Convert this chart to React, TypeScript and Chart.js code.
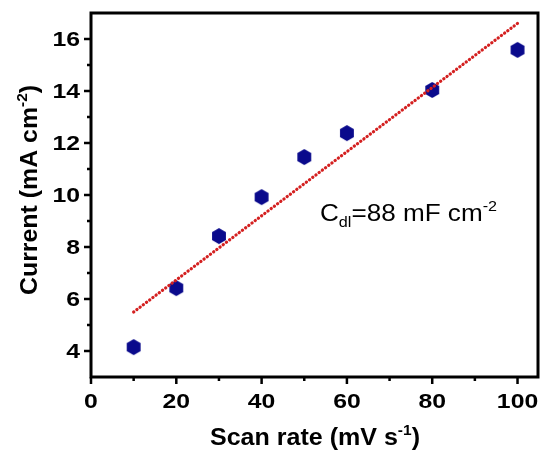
import React, { useEffect, useRef } from "react";
import { Chart, registerables } from "chart.js";

Chart.register(...registerables);

const scanRates = [10, 20, 30, 40, 50, 60, 80, 100];
const currents = [4.15, 6.42, 8.42, 9.92, 11.46, 12.38, 14.04, 15.58];
const fitX = [10, 100];
const fitY = [5.5, 16.6];
const xTicks = [0, 20, 40, 60, 80, 100];
const xMinorTicks = [10, 30, 50, 70, 90];
const yTicks = [4, 6, 8, 10, 12, 14, 16];
const yMinorTicks = [5, 7, 9, 11, 13, 15];
const xTitle = [{ t: "Scan rate (mV s" }, { t: "-1", sup: true }, { t: ")" }];
const yTitle = [{ t: "Current (mA cm" }, { t: "-2", sup: true }, { t: ")" }];
const note = [{ t: "C" }, { t: "dl", sub: true }, { t: "=88 mF cm" }, { t: "-2", sup: true }];

const FONT = "Arial, 'Liberation Sans', sans-serif";

type Part = { t: string; sup?: boolean; sub?: boolean };

function richWidth(ctx: CanvasRenderingContext2D, parts: Part[], size: number, weight: string) {
  let w = 0;
  for (const p of parts) {
    const s = p.sup || p.sub ? size * 0.62 : size;
    ctx.font = `${weight} ${s}px ${FONT}`;
    w += ctx.measureText(p.t).width;
  }
  return w;
}

// draws rich text starting at x (left), stretched horizontally so that it spans targetW
function drawRich(ctx: CanvasRenderingContext2D, parts: Part[], x: number, y: number, size: number, weight: string, targetW: number) {
  const w = richWidth(ctx, parts, size, weight);
  const k = targetW / w;
  ctx.save();
  ctx.translate(x, y);
  ctx.scale(k, 1);
  ctx.textBaseline = "alphabetic";
  ctx.textAlign = "left";
  let cx = 0;
  for (const p of parts) {
    const s = p.sup || p.sub ? size * 0.62 : size;
    ctx.font = `${weight} ${s}px ${FONT}`;
    const dy = p.sup ? -size * 0.45 : p.sub ? size * 0.28 : 0;
    ctx.fillText(p.t, cx, dy);
    cx += ctx.measureText(p.t).width;
  }
  ctx.restore();
}

function drawStretched(ctx: CanvasRenderingContext2D, text: string, x: number, y: number, align: "center" | "right", k: number) {
  ctx.save();
  ctx.translate(x, y);
  ctx.scale(k, 1);
  ctx.textAlign = align;
  ctx.fillText(text, 0, 0);
  ctx.restore();
}

function makeHexagon(r: number, color: string) {
  const c = document.createElement("canvas");
  const w = Math.ceil(2 * r * Math.cos(Math.PI / 6)) + 2;
  const h = Math.ceil(2 * r) + 2;
  c.width = w;
  c.height = h;
  const g = c.getContext("2d")!;
  g.fillStyle = color;
  g.beginPath();
  for (let i = 0; i < 6; i++) {
    const a = Math.PI / 2 + (i * Math.PI) / 3;
    const px = w / 2 + r * Math.cos(a);
    const py = h / 2 + r * Math.sin(a);
    if (i === 0) g.moveTo(px, py);
    else g.lineTo(px, py);
  }
  g.closePath();
  g.fill();
  return c;
}

const framePlugin = {
  id: "frame",
  afterDraw(chart: any) {
    const ctx = chart.ctx as CanvasRenderingContext2D;
    const { left, right, top, bottom } = chart.chartArea;
    const xs = chart.scales.x;
    const ys = chart.scales.y;
    ctx.save();
    ctx.strokeStyle = "#000";
    ctx.lineWidth = 3;
    ctx.strokeRect(left, top, right - left, bottom - top);
    ctx.lineWidth = 2.5;
    ctx.beginPath();
    for (const v of xTicks) {
      const px = xs.getPixelForValue(v);
      ctx.moveTo(px, bottom);
      ctx.lineTo(px, bottom + 7);
    }
    for (const v of xMinorTicks) {
      const px = xs.getPixelForValue(v);
      ctx.moveTo(px, bottom);
      ctx.lineTo(px, bottom + 4);
    }
    for (const v of yTicks) {
      const py = ys.getPixelForValue(v);
      ctx.moveTo(left, py);
      ctx.lineTo(left - 7, py);
    }
    for (const v of yMinorTicks) {
      const py = ys.getPixelForValue(v);
      ctx.moveTo(left, py);
      ctx.lineTo(left - 4, py);
    }
    ctx.stroke();
    ctx.fillStyle = "#000";
    // tick labels
    ctx.font = `bold 21px ${FONT}`;
    ctx.textBaseline = "alphabetic";
    for (const v of xTicks) {
      drawStretched(ctx, String(v), xs.getPixelForValue(v), 407.5, "center", 1.18);
    }
    ctx.textBaseline = "middle";
    for (const v of yTicks) {
      drawStretched(ctx, String(v), 80, ys.getPixelForValue(v) + 1, "right", 1.18);
    }
    // x title
    drawRich(ctx, xTitle, 210, 445, 23, "bold", 210);
    // y title
    ctx.save();
    ctx.translate(37, 295);
    ctx.rotate(-Math.PI / 2);
    drawRich(ctx, yTitle, 0, 0, 23, "bold", 210);
    ctx.restore();
    // annotation
    drawRich(ctx, note, 320, 221, 23, "normal", 177);
    ctx.restore();
  },
};

export default function App() {
  const ref = useRef<HTMLCanvasElement>(null);
  useEffect(() => {
    const hex = makeHexagon(8, "#0a0a8c");
    const chart = new Chart(ref.current!, {
      type: "scatter",
      data: {
        datasets: [
          {
            type: "line",
            data: fitX.map((x, i) => ({ x, y: fitY[i] })),
            borderColor: "#d42020",
            borderWidth: 3.2,
            borderDash: [0.2, 3.8],
            borderCapStyle: "round",
            pointRadius: 0,
            fill: false,
          } as any,
          {
            data: scanRates.map((x, i) => ({ x, y: currents[i] })),
            pointStyle: hex as any,
            pointRadius: 8,
            backgroundColor: "#0a0a8c",
          },
        ],
      },
      options: {
        animation: false,
        responsive: false,
        layout: { padding: { top: 13, right: 3, left: 0, bottom: 0 } },
        plugins: { legend: { display: false }, tooltip: { enabled: false } },
        scales: {
          x: {
            type: "linear",
            min: 0,
            max: 104.8,
            grid: { display: false },
            border: { display: false },
            afterBuildTicks: (s: any) => {
              s.ticks = xTicks.map((v) => ({ value: v }));
            },
            afterFit: (s: any) => {
              s.height = 73;
              s.paddingLeft = 0;
              s.paddingRight = 0;
            },
            ticks: { display: false },
          },
          y: {
            type: "linear",
            min: 3,
            max: 17,
            grid: { display: false },
            border: { display: false },
            afterBuildTicks: (s: any) => {
              s.ticks = yTicks.map((v) => ({ value: v }));
            },
            afterFit: (s: any) => {
              s.width = 91;
              s.paddingTop = 0;
              s.paddingBottom = 0;
            },
            ticks: { display: false },
          },
        },
      },
      plugins: [
        framePlugin,
        {
          id: "forceArea",
          afterLayout(chart: any) {
            // keep the plot frame at the reference position
            const a = chart.chartArea;
            const xs = chart.scales.x;
            const targetRight = 538;
            if (Math.abs(a.right - targetRight) > 0.5) {
              a.right = targetRight;
              a.width = a.right - a.left;
              xs.right = targetRight;
              xs.width = xs.right - xs.left;
              xs.configure();
            }
          },
        },
      ],
    });
    return () => chart.destroy();
  }, []);
  return (
    <div style={{ position: "absolute", left: 0, top: 0, width: 541, height: 450, background: "#fff" }}>
      <canvas ref={ref} width={541} height={450} />
    </div>
  );
}
